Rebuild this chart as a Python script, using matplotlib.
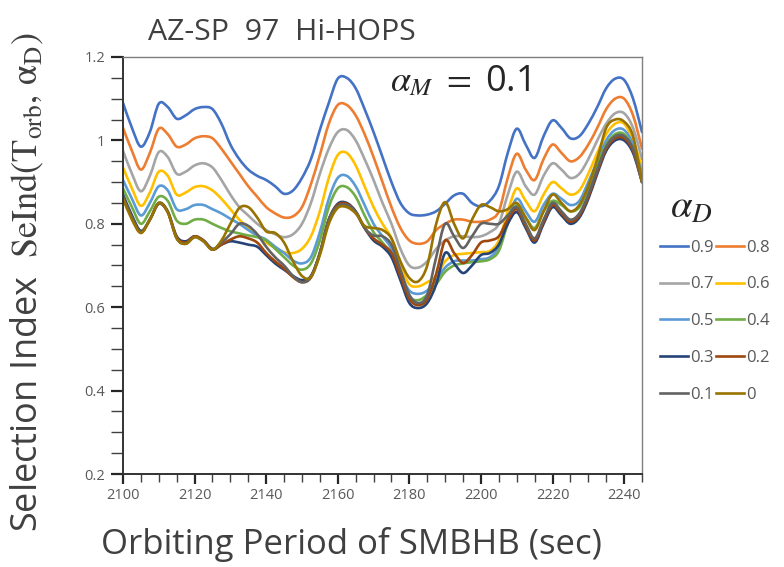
import numpy as np
import matplotlib
matplotlib.use("Agg")
import matplotlib.pyplot as plt
from matplotlib.ticker import MultipleLocator
from matplotlib.lines import Line2D
from matplotlib.path import Path
from matplotlib.patches import PathPatch

plt.rcParams['font.family'] = ['Open Sans', 'DejaVu Sans']
plt.rcParams['mathtext.fontset'] = 'stix'

# ---- data ----
period = [2100 + 2.5 * k for k in range(59)]

alpha_labels = ['0.9', '0.8', '0.7', '0.6', '0.5', '0.4', '0.3', '0.2', '0.1', '0']
colors = ['#4472C4', '#ED7D31', '#A5A5A5', '#FFC000', '#5B9BD5',
          '#70AD47', '#264478', '#9E480E', '#636363', '#997300']

s09 = [1.09, 1.03, 0.985, 1.02, 1.088, 1.08, 1.052, 1.06, 1.075, 1.08,
       1.075, 1.04, 0.99, 0.955, 0.93, 0.915, 0.905, 0.89, 0.872, 0.88,
       0.91, 0.955, 1.025, 1.09, 1.148, 1.15, 1.125, 1.075, 1.02, 0.96,
       0.9, 0.85, 0.825, 0.82, 0.822, 0.83, 0.848, 0.868, 0.872, 0.85,
       0.842, 0.855, 0.89, 0.97, 1.028, 0.99, 0.958, 1.01, 1.048, 1.03,
       1.005, 1.01, 1.04, 1.08, 1.125, 1.148, 1.145, 1.1, 1.02]
s08 = [1.03, 0.975, 0.93, 0.97, 1.028, 1.015, 0.985, 0.99, 1.005, 1.01,
       1.005, 0.98, 0.95, 0.92, 0.89, 0.865, 0.84, 0.825, 0.815, 0.818,
       0.84, 0.895, 0.965, 1.04, 1.085, 1.085, 1.06, 1.015, 0.96, 0.9,
       0.84, 0.79, 0.76, 0.752, 0.758, 0.785, 0.8, 0.81, 0.81, 0.805,
       0.805, 0.81, 0.83, 0.91, 0.968, 0.93, 0.905, 0.955, 0.99, 0.97,
       0.95, 0.96, 0.99, 1.03, 1.075, 1.1, 1.1, 1.06, 0.98]
s07 = [0.975, 0.92, 0.878, 0.915, 0.972, 0.96, 0.92, 0.925, 0.94, 0.945,
       0.935, 0.905, 0.87, 0.84, 0.82, 0.8, 0.785, 0.775, 0.768, 0.775,
       0.8, 0.85, 0.92, 0.98, 1.02, 1.025, 1.0, 0.955, 0.905, 0.85,
       0.8, 0.74, 0.7, 0.695, 0.71, 0.74, 0.76, 0.77, 0.77, 0.768,
       0.77, 0.78, 0.8, 0.87, 0.925, 0.89, 0.87, 0.915, 0.945, 0.93,
       0.91, 0.92, 0.955, 1.0, 1.04, 1.065, 1.065, 1.03, 0.955]
s06 = [0.935, 0.885, 0.843, 0.875, 0.925, 0.915, 0.87, 0.875, 0.888, 0.89,
       0.88, 0.86, 0.835, 0.81, 0.79, 0.77, 0.755, 0.742, 0.732, 0.73,
       0.74, 0.77, 0.83, 0.91, 0.965, 0.97, 0.94, 0.89, 0.84, 0.8,
       0.765, 0.7, 0.655, 0.65, 0.66, 0.675, 0.71, 0.725, 0.728, 0.73,
       0.732, 0.735, 0.76, 0.83, 0.885, 0.855, 0.83, 0.87, 0.9, 0.885,
       0.87, 0.88, 0.92, 0.97, 1.015, 1.04, 1.04, 1.0, 0.935]
s05 = [0.905, 0.86, 0.82, 0.85, 0.89, 0.88, 0.835, 0.835, 0.845, 0.845,
       0.835, 0.825, 0.812, 0.8, 0.785, 0.772, 0.762, 0.745, 0.73, 0.712,
       0.705, 0.72, 0.78, 0.86, 0.91, 0.915, 0.89, 0.845, 0.8, 0.77,
       0.74, 0.68, 0.64, 0.632, 0.64, 0.665, 0.695, 0.71, 0.712, 0.712,
       0.715, 0.72, 0.745, 0.81, 0.86, 0.83, 0.805, 0.845, 0.872, 0.86,
       0.845, 0.855, 0.9, 0.95, 1.0, 1.025, 1.025, 0.99, 0.92]
s04 = [0.885, 0.84, 0.8, 0.83, 0.865, 0.855, 0.808, 0.8, 0.81, 0.81,
       0.8, 0.79, 0.782, 0.777, 0.772, 0.768, 0.76, 0.74, 0.72, 0.7,
       0.69, 0.705, 0.76, 0.84, 0.885, 0.888, 0.865, 0.82, 0.78, 0.755,
       0.725, 0.67, 0.625, 0.617, 0.63, 0.655, 0.685, 0.7, 0.705, 0.708,
       0.71, 0.715, 0.735, 0.8, 0.845, 0.815, 0.79, 0.83, 0.855, 0.845,
       0.83, 0.84, 0.885, 0.94, 0.99, 1.015, 1.015, 0.98, 0.91]
s03 = [0.87, 0.82, 0.783, 0.81, 0.85, 0.83, 0.77, 0.758, 0.77, 0.76,
       0.74, 0.75, 0.758, 0.755, 0.75, 0.745, 0.725, 0.705, 0.69, 0.675,
       0.665, 0.675, 0.73, 0.81, 0.848, 0.85, 0.83, 0.79, 0.76, 0.745,
       0.72, 0.665, 0.61, 0.598, 0.61, 0.655, 0.73, 0.705, 0.682, 0.7,
       0.725, 0.73, 0.75, 0.8, 0.828, 0.79, 0.755, 0.8, 0.84, 0.82,
       0.8, 0.815, 0.86, 0.92, 0.975, 1.0, 1.0, 0.97, 0.9]
s02 = [0.865, 0.815, 0.78, 0.81, 0.848, 0.828, 0.768, 0.755, 0.77, 0.76,
       0.738, 0.75, 0.762, 0.77, 0.765, 0.755, 0.73, 0.71, 0.693, 0.672,
       0.66, 0.672, 0.73, 0.81, 0.845, 0.848, 0.828, 0.79, 0.765, 0.75,
       0.73, 0.675, 0.62, 0.605, 0.62, 0.68, 0.76, 0.73, 0.706, 0.725,
       0.755, 0.76, 0.77, 0.81, 0.835, 0.795, 0.76, 0.805, 0.845, 0.825,
       0.805, 0.82, 0.865, 0.925, 0.98, 1.005, 1.005, 0.975, 0.9]
s01 = [0.865, 0.815, 0.78, 0.81, 0.848, 0.828, 0.765, 0.752, 0.768, 0.758,
       0.738, 0.755, 0.775, 0.8, 0.795, 0.775, 0.745, 0.72, 0.7, 0.675,
       0.66, 0.672, 0.73, 0.81, 0.842, 0.845, 0.828, 0.79, 0.772, 0.77,
       0.75, 0.69, 0.63, 0.61, 0.63, 0.72, 0.8, 0.77, 0.742, 0.77,
       0.8, 0.8, 0.8, 0.82, 0.84, 0.8, 0.765, 0.81, 0.85, 0.83,
       0.81, 0.825, 0.87, 0.93, 0.985, 1.01, 1.01, 0.98, 0.9]
s00 = [0.86, 0.81, 0.778, 0.81, 0.85, 0.828, 0.765, 0.752, 0.768, 0.758,
       0.738, 0.76, 0.8, 0.838, 0.84, 0.815, 0.782, 0.778, 0.755, 0.71,
       0.675, 0.672, 0.725, 0.8, 0.838, 0.84, 0.825, 0.795, 0.79, 0.785,
       0.765, 0.71, 0.67, 0.662, 0.7, 0.8, 0.852, 0.8, 0.765, 0.81,
       0.845, 0.84, 0.83, 0.835, 0.85, 0.815, 0.785, 0.83, 0.87, 0.85,
       0.83, 0.845, 0.89, 0.955, 1.03, 1.05, 1.045, 1.01, 0.9]

series = [s09, s08, s07, s06, s05, s04, s03, s02, s01, s00]

xticks = [2100, 2120, 2140, 2160, 2180, 2200, 2220, 2240]
yticks = [0.2, 0.4, 0.6, 0.8, 1.0, 1.2]
ytick_labels = ['0.2', '0.4', '0.6', '0.8', '1', '1.2']


def smooth_path(xs, ys):
    """Excel-style smoothed line: cubic Bezier segments through the points."""
    pts = np.column_stack([xs, ys]).astype(float)
    n = len(pts)
    verts = [pts[0]]
    codes = [Path.MOVETO]
    for i in range(n - 1):
        p0 = pts[i - 1] if i > 0 else pts[i]
        p1 = pts[i]
        p2 = pts[i + 1]
        p3 = pts[i + 2] if i + 2 < n else pts[i + 1]
        c1 = p1 + (p2 - p0) / 6.0
        c2 = p2 - (p3 - p1) / 6.0
        verts += [c1, c2, p2]
        codes += [Path.CURVE4] * 3
    return Path(verts, codes)


# ---- figure ----
fig = plt.figure(figsize=(7.84, 5.67), dpi=100)
ax = fig.add_axes([123 / 784, 1 - 474 / 567, (642 - 123) / 784, (474 - 57) / 567])

for lab, col, ys in zip(alpha_labels, colors, series):
    patch = PathPatch(smooth_path(period, ys), facecolor='none', edgecolor=col,
                      lw=1.9, capstyle='round', joinstyle='round')
    patch.set_clip_path(ax.patch)
    ax.add_patch(patch)

ax.set_xlim(2100, 2245)
ax.set_ylim(0.2, 1.2)
ax.set_xticks(xticks)
ax.set_yticks(yticks)
ax.set_yticklabels(ytick_labels)
ax.xaxis.set_minor_locator(MultipleLocator(5))
ax.yaxis.set_minor_locator(MultipleLocator(0.05))

tick_col = '#595959'
ax.tick_params(axis='x', which='major', direction='out', length=7, width=1.6,
               color='#262626', labelsize=10.5, labelcolor=tick_col, pad=3)
ax.tick_params(axis='x', which='minor', direction='out', length=6, width=1.0,
               color='#404040')
ax.tick_params(axis='y', which='major', direction='out', length=9, width=1.6,
               color='#262626', labelsize=10.5, labelcolor=tick_col, pad=4)
ax.tick_params(axis='y', which='minor', direction='out', length=9, width=1.0,
               color='#404040')

for side in ['left', 'bottom']:
    ax.spines[side].set_color('#333333')
    ax.spines[side].set_linewidth(1.4)
for side in ['top', 'right']:
    ax.spines[side].set_color('#7f7f7f')
    ax.spines[side].set_linewidth(1.0)

ax.set_xlabel('Orbiting Period of SMBHB (sec)', fontsize=25, color='#404040')
ax.xaxis.set_label_coords(0.44, -0.128)
ax.set_ylabel(r'Selection Index  $\mathrm{SeInd(T_{orb},\,\alpha_D)}$',
              fontsize=26, color='#404040')
ax.yaxis.set_label_coords(-0.148, 0.46)

fig.text(148 / 784, 1 - 33 / 567, 'AZ-SP  97  Hi-HOPS', fontsize=21.8,
         color='#404040', ha='left', va='center')
ax.text(0.514, 0.94, r'$\alpha_M\ =\ $0.1', transform=ax.transAxes,
        fontsize=26, color='#262626', ha='left', va='center')

fig.text(691 / 784, 1 - 208 / 567, r'$\alpha_D$', fontsize=28,
         color='#262626', ha='center', va='center')

order = ['0.9', '0.7', '0.5', '0.3', '0.1', '0.8', '0.6', '0.4', '0.2', '0']
col_of = dict(zip(alpha_labels, colors))
leg_handles = [Line2D([], [], color=col_of[k], lw=1.9) for k in order]
leg = fig.legend(leg_handles, order, ncol=2, loc='upper left',
                 bbox_to_anchor=(648 / 784, 1 - 228 / 567), frameon=False,
                 fontsize=12, handlelength=1.7, handletextpad=0.15,
                 columnspacing=0.1, labelspacing=1.25, borderpad=0.2)
for t in leg.get_texts():
    t.set_color(tick_col)

fig.savefig('out.png', dpi=100)
